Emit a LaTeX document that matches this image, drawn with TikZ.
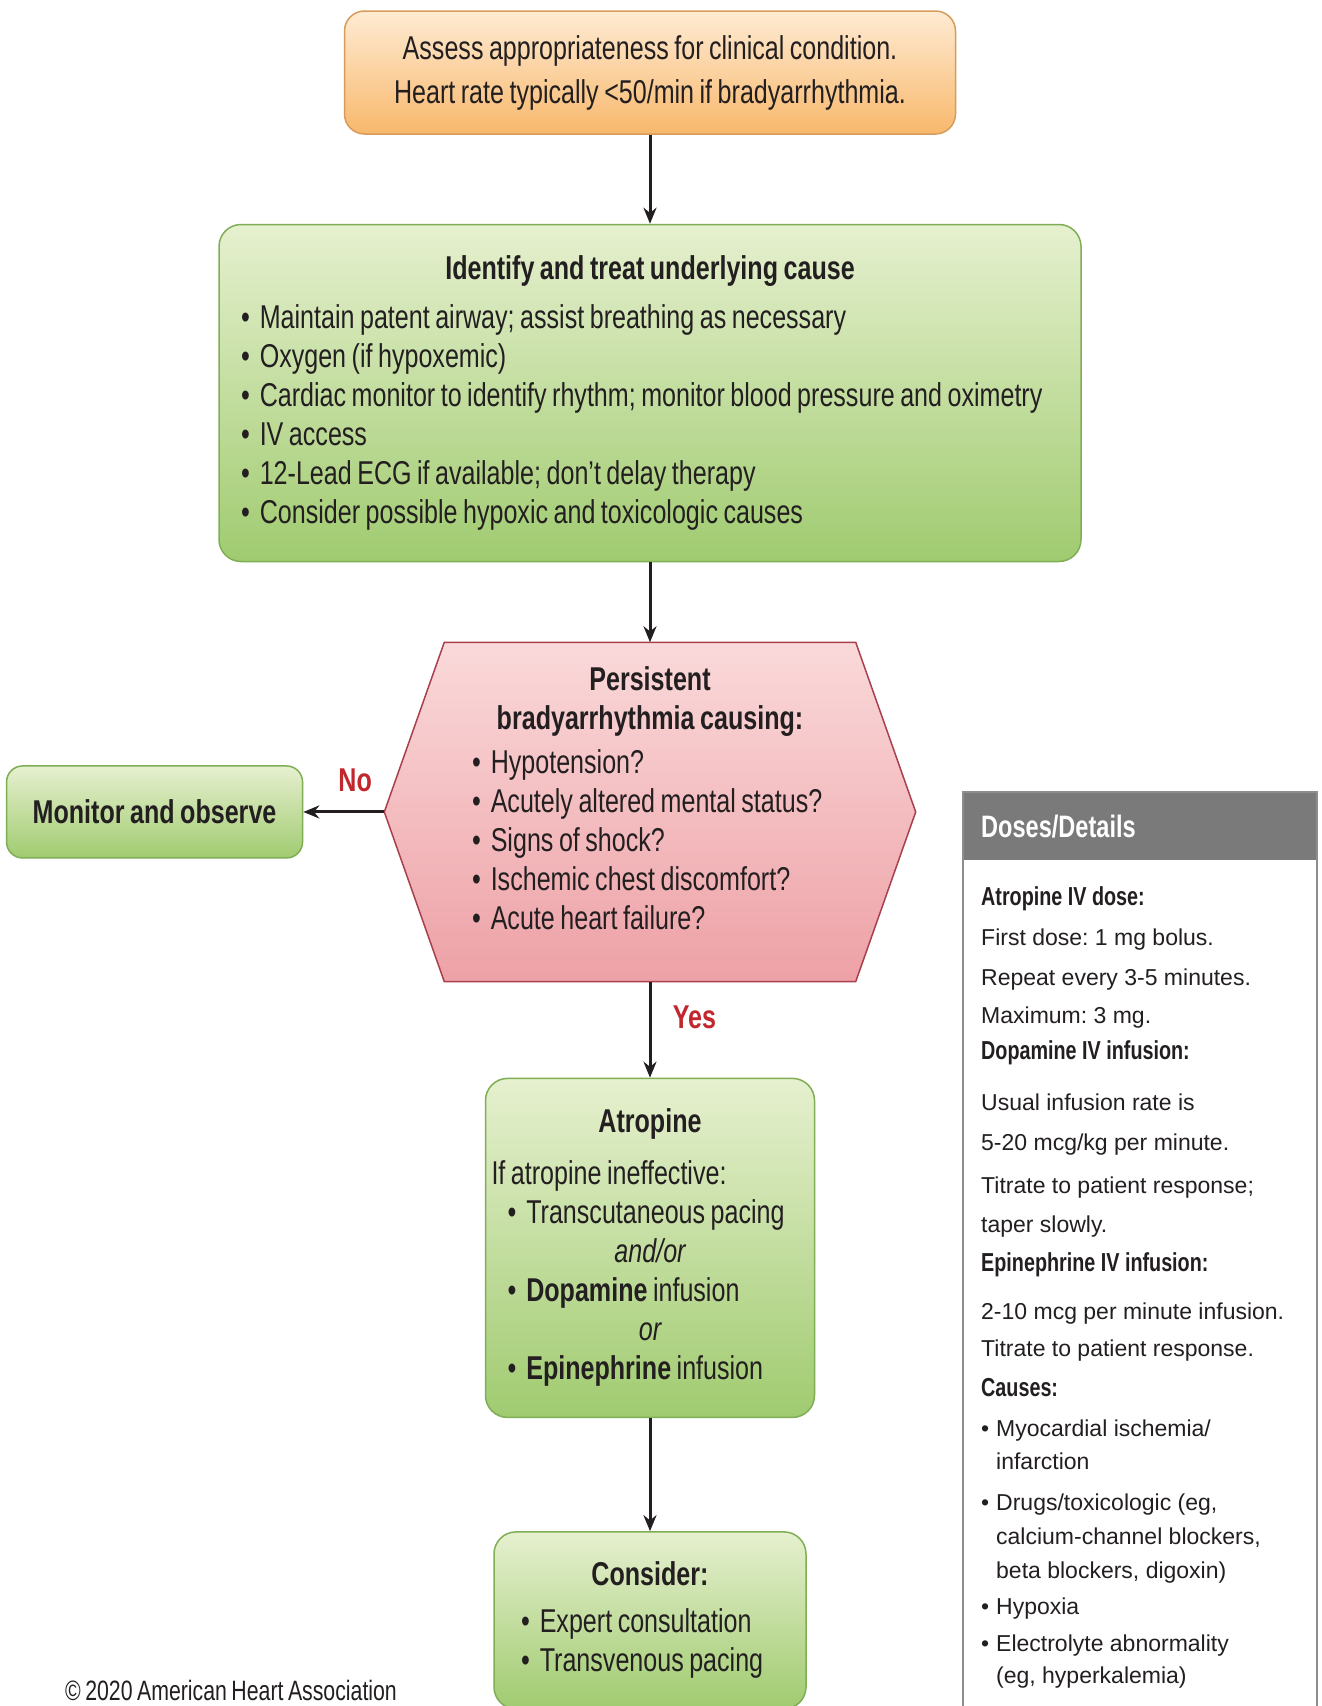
\documentclass[tikz,border=0pt]{standalone}
\usepackage{fontspec}
\setmainfont[FakeStretch=0.76]{Liberation Sans}
\newfontfamily\dosefont{Liberation Sans}
\usetikzlibrary{arrows.meta, positioning, calc, backgrounds}
\frenchspacing
\hyphenpenalty=10000
\exhyphenpenalty=10000
\definecolor{ahatext}{HTML}{231F20}
\definecolor{orangetop}{HTML}{FEEBD3}
\definecolor{orangebot}{HTML}{F8B86C}
\definecolor{orangeline}{HTML}{D69C5C}
\definecolor{greentop}{HTML}{E6F0CF}
\definecolor{greenbot}{HTML}{A0CB70}
\definecolor{greenline}{HTML}{7FAE55}
\definecolor{pinktop}{HTML}{FAD9DA}
\definecolor{pinkbot}{HTML}{EDA1A6}
\definecolor{pinkline}{HTML}{A8414C}
\definecolor{headgray}{HTML}{7A7A7A}
\definecolor{framegray}{HTML}{8E8E8E}
\definecolor{answerred}{HTML}{C1272D}
\newcommand{\flowfont}{\fontsize{33}{39}\selectfont\fontdimen2\font=5.5pt\relax}
\newcommand{\flowbold}{\flowfont\bfseries\fontdimen2\font=5.5pt\relax}
\newcommand{\noticefont}{\fontsize{28}{30}\selectfont\fontdimen2\font=4.5pt\relax}
\newcommand{\dosesize}{\fontsize{23}{34}\selectfont}
\newcommand{\itembul}{\textbullet\hspace{10pt}}
\newcommand{\boxtitle}[1]{\makebox[\linewidth][c]{\bfseries\fontdimen2\font=5.5pt\relax #1}}
\newcommand{\dosehead}[1]{{\normalfont\fontsize{26}{34}\selectfont\bfseries #1}}
\newcommand{\causebul}{\makebox[15pt][l]{\textbullet}}
\newcommand{\causeindent}{\hspace*{15pt}}
\tikzset{
  startbox/.style={rectangle, rounded corners=20pt, minimum width=611pt, minimum height=123pt, text width=590pt, align=flush center, draw=orangeline, line width=1.5pt, top color=orangetop, bottom color=orangebot, font=\flowfont, text=ahatext},
  stepbox/.style={rectangle, rounded corners=22pt, draw=greenline, line width=1.5pt, top color=greentop, bottom color=greenbot, align=flush left, font=\flowfont, text=ahatext},
  decision/.style={rectangle, minimum width=531pt, minimum height=339pt, text width=356pt, align=flush left, inner sep=0pt, font=\flowfont, text=ahatext},
  hexfill/.style={draw=pinkline, line width=1.5pt, top color=pinktop, bottom color=pinkbot},
  arrow/.style={line width=3pt, -{Stealth[length=16pt, width=13pt]}, draw=ahatext},
  answer/.style={font=\flowbold, text=answerred},
  panelhead/.style={rectangle, fill=headgray, minimum width=354pt, minimum height=68pt, text width=318pt, inner xsep=18pt, align=flush left, font=\fontsize{31}{34}\selectfont\bfseries, text=white},
  panelbody/.style={inner sep=0pt, align=left, font=\dosesize\dosefont, text=ahatext},
  panelframe/.style={draw=framegray, line width=2pt},
  notice/.style={font=\noticefont, text=ahatext}
}

\begin{document}
\begin{tikzpicture}[x=1pt, y=-1pt]
  \useasboundingbox (0,0) rectangle (1322,1706);

  % Start box
  \node (assess) [startbox] at (650,72.5) {Assess appropriateness for clinical condition.\\[5pt]
    Heart rate typically <50/min if bradyarrhythmia.};

  % Underlying cause
  \node (cause) [stepbox, below=89pt of assess, minimum width=862pt, minimum height=337pt, text width=818pt, inner xsep=22pt]
    {\boxtitle{Identify and treat underlying cause}\\[10pt]
     \itembul Maintain patent airway; assist breathing as necessary\\
     \itembul Oxygen (if hypoxemic)\\
     \itembul Cardiac monitor to identify rhythm; monitor blood pressure and oximetry\\
     \itembul IV access\\
     \itembul 12-Lead ECG if available; don't delay therapy\\
     \itembul Consider possible hypoxic and toxicologic causes};

  % Decision hexagon
  \node (brady) [decision, below=80pt of cause]
    {\boxtitle{Persistent}\\
     \boxtitle{bradyarrhythmia causing:}\\[5pt]
     \itembul Hypotension?\\
     \itembul Acutely altered mental status?\\
     \itembul Signs of shock?\\
     \itembul Ischemic chest discomfort?\\
     \itembul Acute heart failure?\\[-12pt]
     \mbox{}};

  % No branch
  \node (monitor) [stepbox, left=81pt of brady, minimum width=296pt, minimum height=92pt, rounded corners=16pt, align=center, font=\flowbold] {Monitor and observe};

  % Yes branch
  \node (atropine) [stepbox, below=96pt of brady, minimum width=329pt, minimum height=339pt, text width=317pt, inner xsep=6pt]
    {\boxtitle{Atropine}\\[13pt]
     If atropine ineffective:\\
     \hspace*{16pt}\itembul Transcutaneous pacing\\
     \makebox[\linewidth][c]{\itshape and/or}\\
     \hspace*{16pt}\itembul\textbf{Dopamine} infusion\\
     \makebox[\linewidth][c]{\itshape or}\\
     \hspace*{16pt}\itembul\textbf{Epinephrine} infusion};

  \node (consider) [stepbox, below=113pt of atropine, minimum width=312pt, minimum height=177pt, text width=258pt, inner xsep=27pt]
    {\boxtitle{Consider:}\\[8pt]
     \itembul Expert consultation\\
     \itembul Transvenous pacing};

  % Connections
  \draw [arrow] (assess) -- (cause);
  \draw [arrow] (cause) -- (brady);
  \draw [arrow] (brady) -- node[answer, above=15pt, pos=0.36] {No} (monitor);
  \draw [arrow] (brady) -- node[answer, right=18pt, pos=0.375] {Yes} (atropine);
  \draw [arrow] (atropine) -- (consider);

  % Doses panel
  \node (doseshead) [panelhead, anchor=north west] at (963,792) {Doses/Details};
  \draw [panelframe] (doseshead.north west) rectangle ++(354,960);
  \node (dosesbody) [panelbody, below right=26pt and 18pt of doseshead.south west]
    {\dosehead{Atropine IV dose:}\\[6pt]
     First dose: 1 mg bolus.\\[6pt]
     Repeat every 3-5 minutes.\\[4pt]
     Maximum: 3 mg.\\[2pt]
     \dosehead{Dopamine IV infusion:}\\[17pt]
     Usual infusion rate is\\[6pt]
     5-20 mcg/kg per minute.\\[9pt]
     Titrate to patient response;\\[5pt]
     taper slowly.\\[5pt]
     \dosehead{Epinephrine IV infusion:}\\[14pt]
     2-10 mcg per minute infusion.\\[3pt]
     Titrate to patient response.\\[6pt]
     \dosehead{Causes:}\\[6pt]
     \causebul Myocardial ischemia/\\[-1pt]
     \causeindent infarction\\[7pt]
     \causebul Drugs/toxicologic (eg,\\[0pt]
     \causeindent calcium-channel blockers,\\
     \causeindent beta blockers, digoxin)\\[2pt]
     \causebul Hypoxia\\[3pt]
     \causebul Electrolyte abnormality\\[-2pt]
     \causeindent (eg, hyperkalemia)};

  \node (copyright) [notice] at (231,1690) {© 2020 American Heart Association};

  % Hexagon and page behind the nodes
  \begin{scope}[on background layer]
    \fill [white] (0,0) rectangle (1322,1706);
    \path [hexfill] (brady.west) -- ($(brady.north west)+(60,0)$) -- ($(brady.north east)+(-60,0)$)
      -- (brady.east) -- ($(brady.south east)+(-60,0)$) -- ($(brady.south west)+(60,0)$) -- cycle;
  \end{scope}

\end{tikzpicture}
\end{document}
